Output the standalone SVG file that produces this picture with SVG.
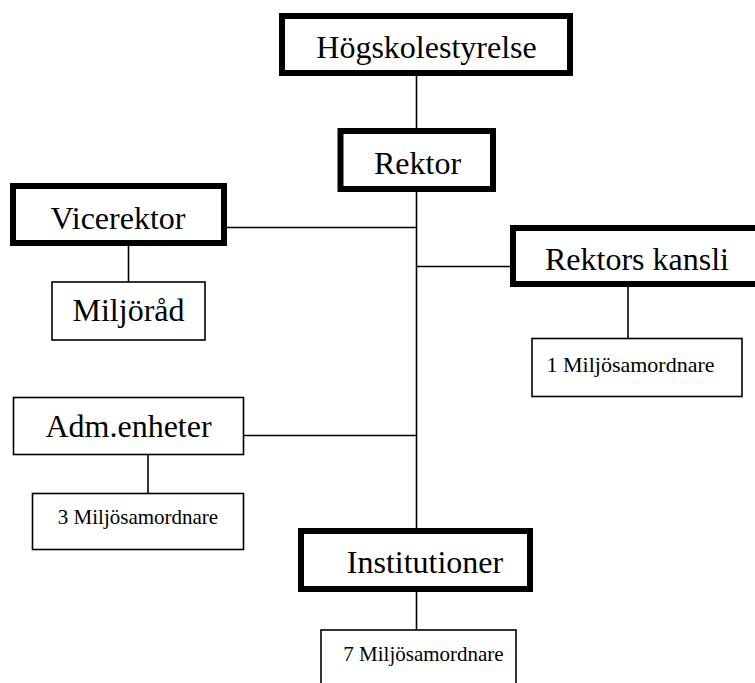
<svg xmlns="http://www.w3.org/2000/svg" width="755" height="683" viewBox="0 0 755 683">
<style>
.thick{fill:#fff;stroke:#000;stroke-width:6}
.thin{fill:#fff;stroke:#000;stroke-width:1.6}
.big{font-family:"Liberation Serif","Times New Roman",serif;font-size:32px;fill:#000;text-anchor:middle}
.small{font-family:"Liberation Serif","Times New Roman",serif;font-size:21px;fill:#000;text-anchor:middle}
#connectors line{stroke:#000;stroke-width:1.6}
</style>
<rect width="755" height="683" fill="#fff"/>
<g id="connectors">
<line x1="416.5" y1="76" x2="416.5" y2="128"/>
<line x1="416.5" y1="192" x2="416.5" y2="528"/>
<line x1="227" y1="227.5" x2="416.5" y2="227.5"/>
<line x1="416.5" y1="266.5" x2="510" y2="266.5"/>
<line x1="243" y1="435.5" x2="416.5" y2="435.5"/>
<line x1="128.5" y1="246" x2="128.5" y2="282"/>
<line x1="628" y1="287" x2="628" y2="338"/>
<line x1="148" y1="454" x2="148" y2="493"/>
<line x1="416.5" y1="592" x2="416.5" y2="630"/>
</g>
<g id="hogskolestyrelse">
<rect class="thick" x="282" y="16" width="288" height="57"/>
<text class="big" x="426.5" y="58">Högskolestyrelse</text>
</g>
<g id="rektor">
<rect class="thick" x="340.5" y="131" width="152.5" height="58"/>
<text class="big" x="417.5" y="174">Rektor</text>
</g>
<g id="vicerektor">
<rect class="thick" x="13" y="186" width="211" height="57"/>
<text class="big" x="118" y="228.5">Vicerektor</text>
</g>
<g id="miljorad">
<rect class="thin" x="52" y="282" width="153" height="58"/>
<text class="big" x="128.5" y="321">Miljöråd</text>
</g>
<g id="rektors-kansli">
<rect class="thick" x="513" y="228" width="248" height="56"/>
<text class="big" x="637" y="270">Rektors kansli</text>
</g>
<g id="miljosamordnare-1">
<rect class="thin" x="532" y="338.5" width="210" height="58"/>
<text class="small" x="630.5" y="372" style="font-size:22px">1 Miljösamordnare</text>
</g>
<g id="adm-enheter">
<rect class="thin" x="13.5" y="397.5" width="230" height="57"/>
<text class="big" x="128.5" y="437">Adm.enheter</text>
</g>
<g id="miljosamordnare-3">
<rect class="thin" x="32.5" y="493.5" width="211" height="56"/>
<text class="small" x="138" y="524">3 Miljösamordnare</text>
</g>
<g id="institutioner">
<rect class="thick" x="301" y="531" width="229" height="58"/>
<text class="big" x="425" y="573">Institutioner</text>
</g>
<g id="miljosamordnare-7">
<rect class="thin" x="321" y="630" width="195" height="70"/>
<text class="small" x="423.5" y="661">7 Miljösamordnare</text>
</g>
</svg>
